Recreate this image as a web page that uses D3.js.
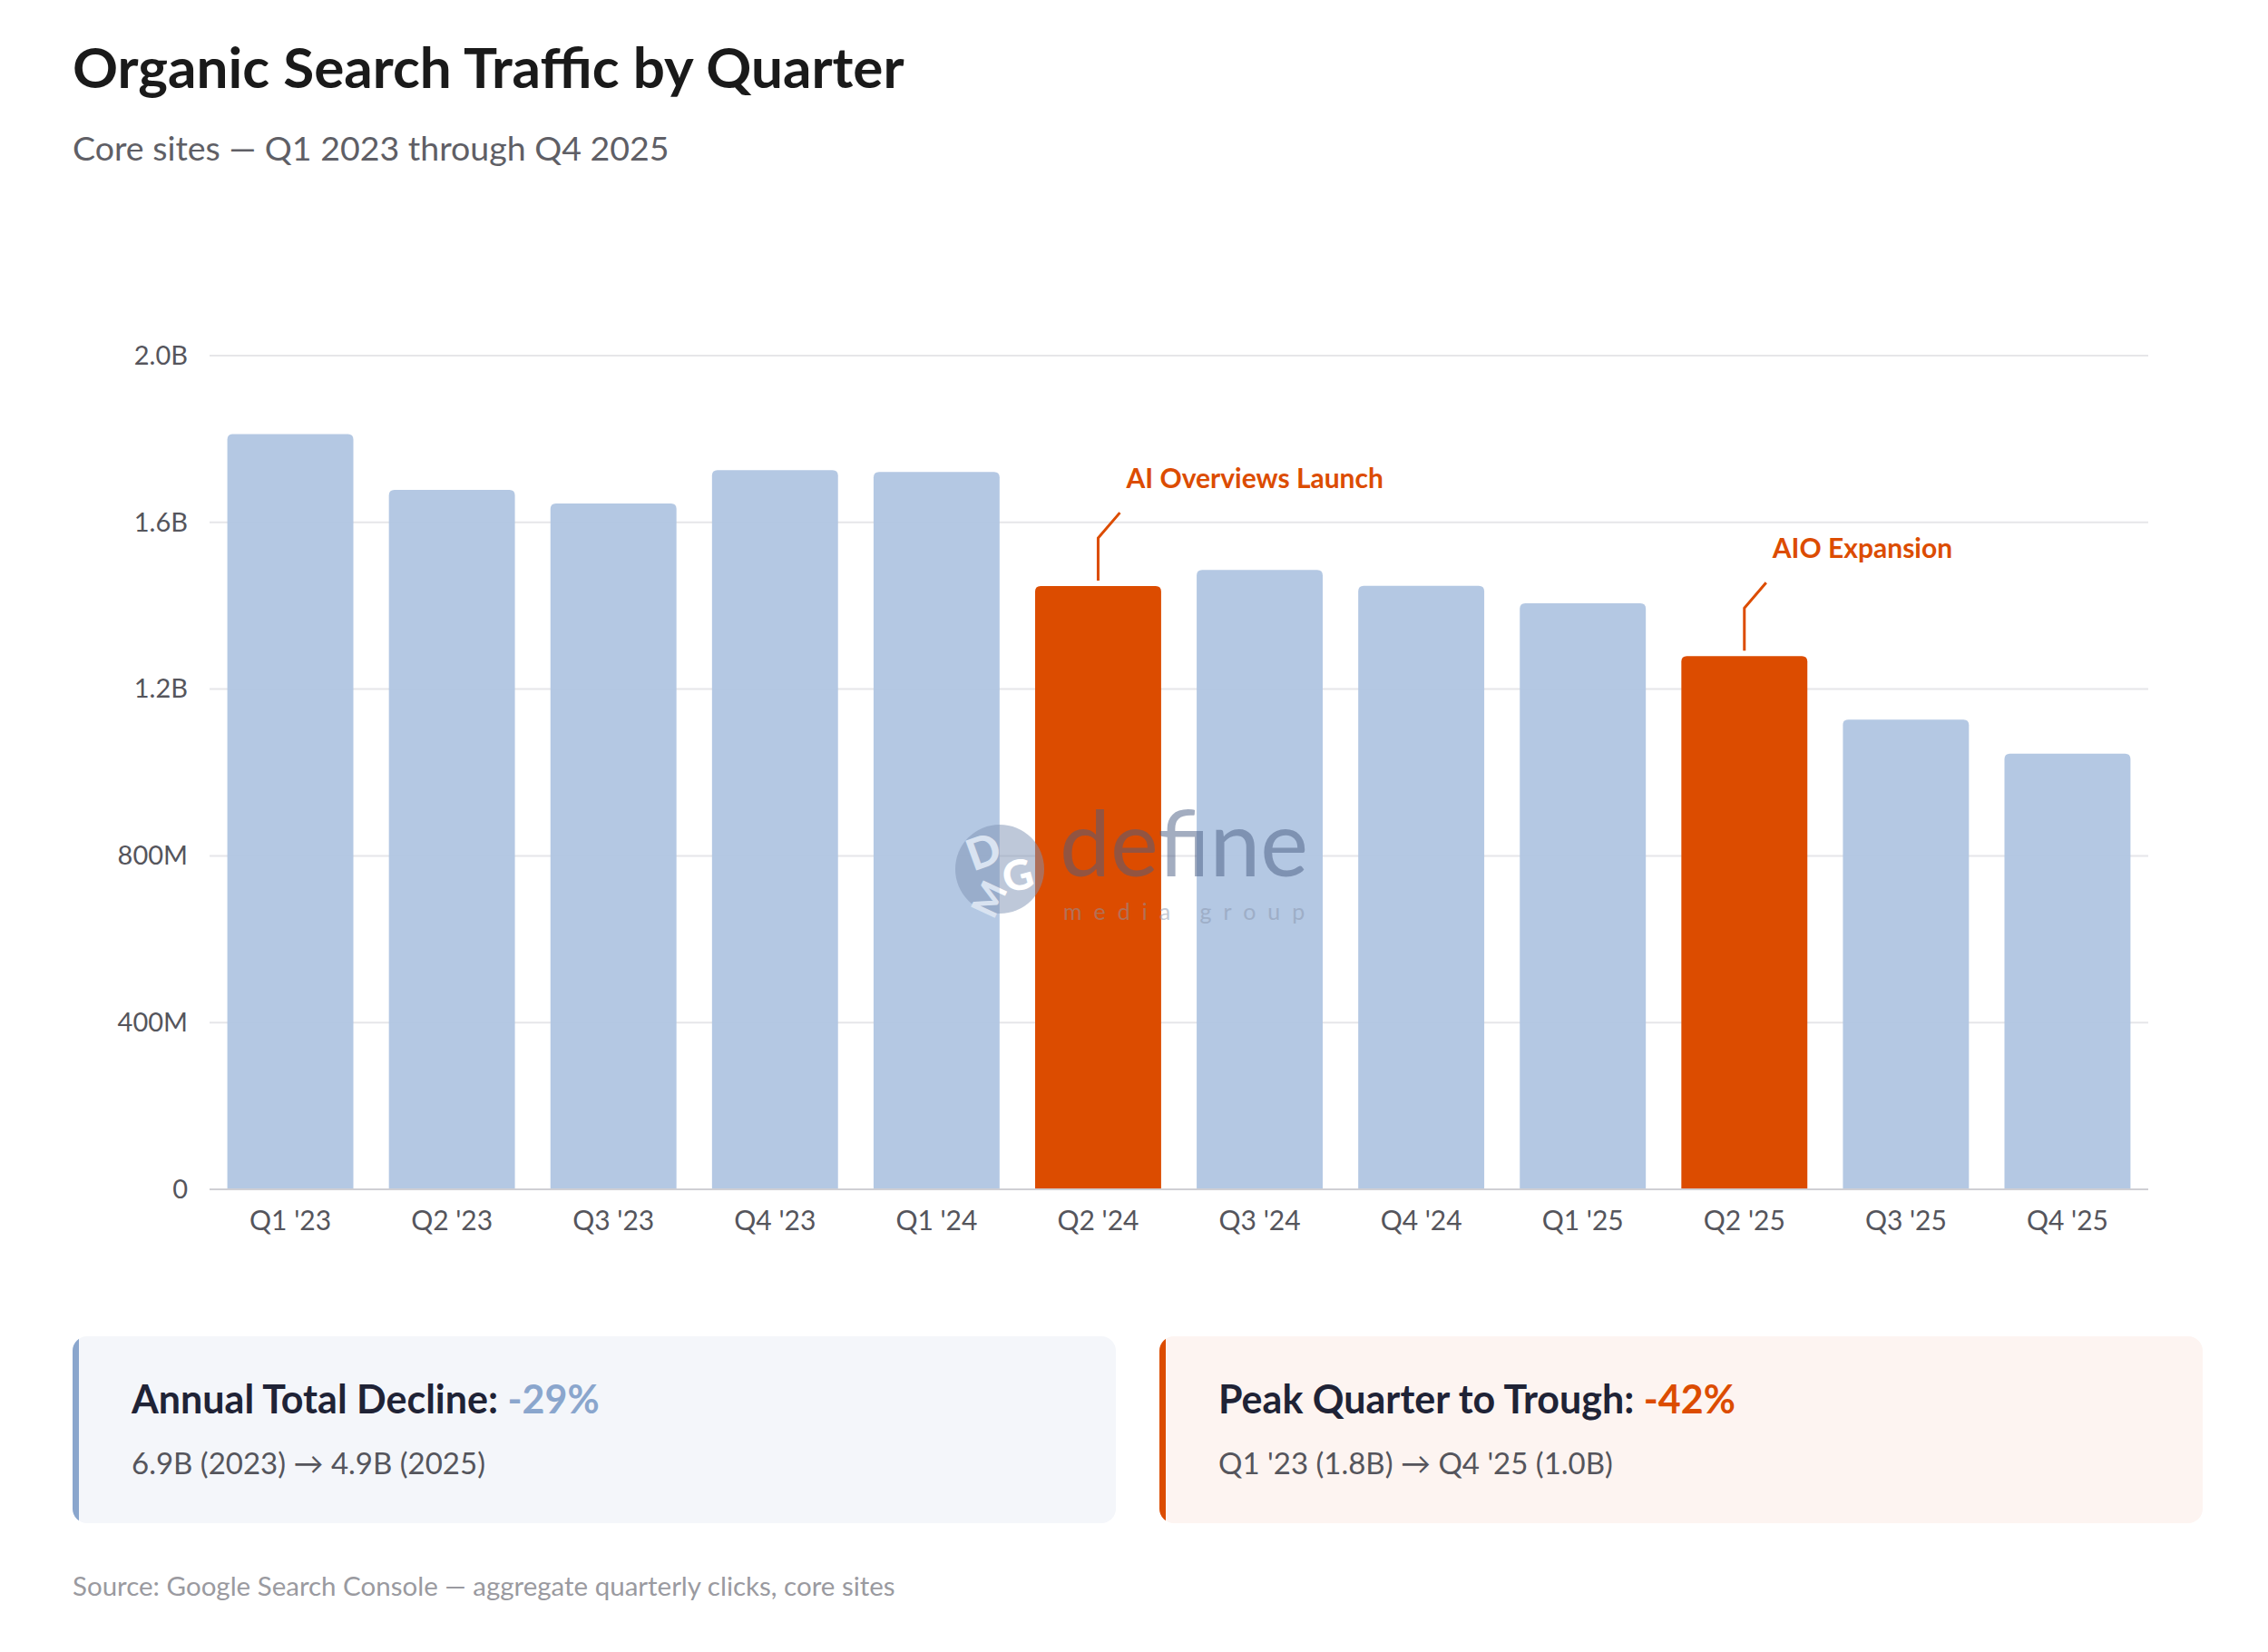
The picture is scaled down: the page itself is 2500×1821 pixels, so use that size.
<!DOCTYPE html>
<html>
<head>
<meta charset="utf-8">
<title>Organic Search Traffic by Quarter</title>
<script src="https://d3js.org/d3.v7.min.js"></script>
<style>
  body { margin: 0; background: #fff; }
  svg text { font-family: Lato, "Noto Sans", sans-serif; }
</style>
</head>
<body>

<div id="chart"></div>

<script>
  // data
  const quarters = ["Q1 '23", "Q2 '23", "Q3 '23", "Q4 '23", "Q1 '24", "Q2 '24",
                    "Q3 '24", "Q4 '24", "Q1 '25", "Q2 '25", "Q3 '25", "Q4 '25"];
  const clicks = [1.812e9, 1.678e9, 1.645e9, 1.725e9, 1.721e9, 1.447e9,
                  1.486e9, 1.448e9, 1.406e9, 1.279e9, 1.127e9, 1.045e9];
  const highlighted = ["Q2 '24", "Q2 '25"];
  const annotationQuarters = ["Q2 '24", "Q2 '25"];
  const annotationLabels = ["AI Overviews Launch", "AIO Expansion"];
  const yTicks = [0, 4e8, 8e8, 1.2e9, 1.6e9, 2e9];
  const yTickLabels = ["0", "400M", "800M", "1.2B", "1.6B", "2.0B"];

  const cardTitles = ["Annual Total Decline: ", "Peak Quarter to Trough: "];
  const cardValues = ["-29%", "-42%"];
  const cardNotes = ["6.9B (2023) \u2192 4.9B (2025)", "Q1 '23 (1.8B) \u2192 Q4 '25 (1.0B)"];

  const W = 2500, H = 1821;
  const blue = "#b0c5e2", orange = "#dc4c00", accentBlue = "#8aa6cd";

  const svg = d3.select("#chart").append("svg")
    .attr("width", W)
    .attr("height", H);

  // Title + subtitle
  svg.append("text")
    .attr("x", 80).attr("y", 97)
    .style("font-size", "62px").style("font-weight", 700)
    .attr("fill", "#1a1a1a")
    .text("Organic Search Traffic by Quarter");

  svg.append("text")
    .attr("x", 80).attr("y", 177)
    .style("font-size", "37.5px")
    .attr("fill", "#5f5f66")
    .text("Core sites \u2014 Q1 2023 through Q4 2025");

  // Scales
  const x = d3.scaleBand()
    .domain(quarters)
    .range([231, 2368])
    .paddingInner(0.22)
    .paddingOuter(0.11);

  const y = d3.scaleLinear()
    .domain([0, 2e9])
    .range([1311, 392]);

  // gridlines
  svg.append("g")
    .selectAll("line")
    .data(yTicks.slice(1))
    .enter().append("line")
    .attr("x1", 231).attr("x2", 2368)
    .attr("y1", d => y(d)).attr("y2", d => y(d))
    .attr("stroke", "#e6e6e9")
    .attr("stroke-width", 2);

  // bars, rounded on top only
  const r = 6;
  function barPath(d, i) {
    const x0 = x(quarters[i]), w = x.bandwidth(), y0 = y(d), y1 = y(0);
    return `M${x0},${y1}V${y0 + r}Q${x0},${y0} ${x0 + r},${y0}H${x0 + w - r}Q${x0 + w},${y0} ${x0 + w},${y0 + r}V${y1}Z`;
  }

  svg.append("g")
    .selectAll("path")
    .data(clicks)
    .enter().append("path")
    .attr("d", barPath)
    .attr("fill", (d, i) => highlighted.includes(quarters[i]) ? orange : blue)
    .attr("fill-opacity", (d, i) => highlighted.includes(quarters[i]) ? 1 : 0.95);

  // baseline
  svg.append("line")
    .attr("x1", 231).attr("x2", 2368)
    .attr("y1", y(0)).attr("y2", y(0))
    .attr("stroke", "#cfcfd4")
    .attr("stroke-width", 2);

  // x axis
  const xAxis = svg.append("g")
    .attr("transform", `translate(0,${y(0)})`)
    .call(d3.axisBottom(x).tickSize(0).tickPadding(24));
  xAxis.select(".domain").remove();
  xAxis.selectAll("text")
    .style("font-size", "30px")
    .attr("fill", "#55555c");

  // y axis
  const yAxis = svg.append("g")
    .attr("transform", "translate(231,0)")
    .call(d3.axisLeft(y).tickValues(yTicks).tickFormat((d, i) => yTickLabels[i]).tickSize(0).tickPadding(24));
  yAxis.select(".domain").remove();
  yAxis.selectAll("text")
    .style("font-size", "29px")
    .attr("fill", "#55555c");

  // watermark
  const wm = svg.append("g").attr("opacity", 0.5);
  wm.append("circle")
    .attr("cx", 1102).attr("cy", 958).attr("r", 49)
    .attr("fill", "#7f93b4");
  wm.append("text").attr("x", 1066).attr("y", 957)
    .attr("transform", "rotate(-20,1080,940)")
    .style("font-size", "48px").style("font-weight", 900).attr("fill", "#fff").text("D");
  wm.append("text").attr("x", 1070).attr("y", 1005)
    .attr("transform", "rotate(-65,1090,990)")
    .style("font-size", "40px").style("font-weight", 900).attr("fill", "#fff").text("M");
  wm.append("text").attr("x", 1105).attr("y", 982)
    .attr("transform", "rotate(-15,1120,965)")
    .style("font-size", "46px").style("font-weight", 900).attr("fill", "#fff").text("G");
  wm.append("text")
    .attr("x", 1168).attr("y", 966)
    .style("font-size", "100px")
    .attr("fill", "#4a5d82")
    .text("define");
  wm.append("text")
    .attr("x", 1172).attr("y", 1014)
    .style("font-size", "25px")
    .style("letter-spacing", "13px")
    .attr("fill", "#8a96ad")
    .text("media group");

  // annotations with leader lines
  annotationQuarters.forEach((q, i) => {
    const cx = x(q) + x.bandwidth() / 2;
    const top = y(clicks[quarters.indexOf(q)]);
    svg.append("path")
      .attr("d", `M${cx},${top - 6}V${top - 53}L${cx + 24},${top - 81}`)
      .attr("fill", "none")
      .attr("stroke", orange)
      .attr("stroke-width", 3);
    svg.append("text")
      .attr("x", cx + 31)
      .attr("y", top - 108)
      .style("font-size", "30px").style("font-weight", 700)
      .attr("fill", orange)
      .text(annotationLabels[i]);
  });

  // summary cards
  const cardX = [80, 1278], cardW = 1150, cardY = 1473, cardH = 206;
  const cardBg = ["#f4f6fa", "#fdf4f1"], cardAccent = [accentBlue, orange];

  cardTitles.forEach((t, i) => {
    const g = svg.append("g");
    const clipId = "card-clip-" + i;
    svg.append("clipPath").attr("id", clipId)
      .append("rect")
      .attr("x", cardX[i]).attr("y", cardY)
      .attr("width", cardW).attr("height", cardH)
      .attr("rx", 16);
    g.append("rect")
      .attr("x", cardX[i]).attr("y", cardY)
      .attr("width", cardW).attr("height", cardH)
      .attr("rx", 16)
      .attr("fill", cardBg[i]);
    g.append("rect")
      .attr("clip-path", `url(#${clipId})`)
      .attr("x", cardX[i]).attr("y", cardY)
      .attr("width", 7).attr("height", cardH)
      .attr("fill", cardAccent[i]);

    const title = g.append("text")
      .attr("x", cardX[i] + 65).attr("y", 1558)
      .style("font-size", "43px").style("font-weight", 700)
      .attr("fill", "#1f2336");
    title.append("tspan").text(t);
    title.append("tspan").attr("fill", cardAccent[i]).text(cardValues[i]);

    g.append("text")
      .attr("x", cardX[i] + 65).attr("y", 1625)
      .style("font-size", "33px")
      .attr("fill", "#55555c")
      .text(cardNotes[i]);
  });

  // source
  svg.append("text")
    .attr("x", 80).attr("y", 1759)
    .style("font-size", "29.5px")
    .attr("fill", "#9a9aa0")
    .text("Source: Google Search Console \u2014 aggregate quarterly clicks, core sites");
</script>

</body>
</html>
